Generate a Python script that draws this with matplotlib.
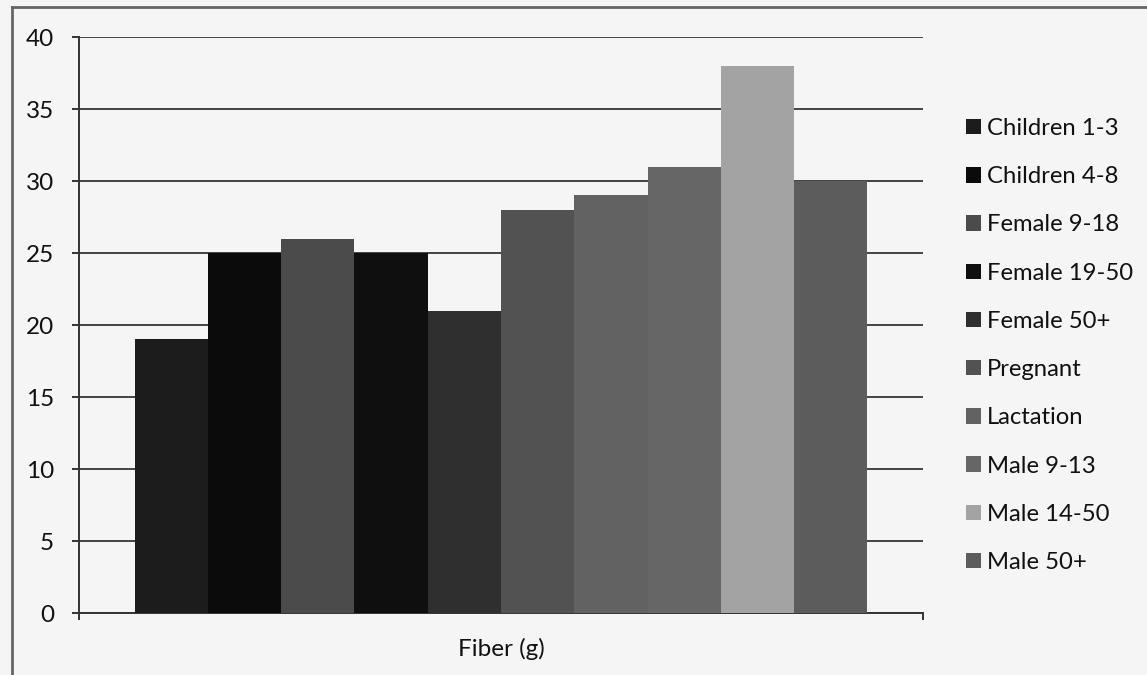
import matplotlib
matplotlib.use("Agg")
import matplotlib.pyplot as plt
from matplotlib.lines import Line2D
from matplotlib.patches import Patch

categories = ["Fiber (g)"]
series = ["Children 1-3", "Children 4-8", "Female 9-18", "Female 19-50", "Female 50+",
          "Pregnant", "Lactation", "Male 9-13", "Male 14-50", "Male 50+"]
values = [19, 25, 26, 25, 21, 28, 29, 31, 38, 30]
colors = ["#1c1c1c", "#0b0b0b", "#4b4b4b", "#0f0f0f", "#2f2f2f",
          "#525252", "#626262", "#666666", "#a3a3a3", "#5c5c5c"]
yticks = [0, 5, 10, 15, 20, 25, 30, 35, 40]

plt.rcParams['font.family'] = ['Lato', 'DejaVu Sans']
bg = "#f5f5f5"
fig = plt.figure(figsize=(11.47, 6.75), dpi=100, facecolor=bg)
W, H = 1147, 675
ax = fig.add_axes([79 / W, 1 - 613 / H, (923 - 79) / W, (613 - 37) / H], facecolor=bg)

n = len(series)
group = 0.868
w = group / n
for i, (s, v, c) in enumerate(zip(series, values, colors)):
    x = -group / 2 + (i + 0.5) * w
    ax.bar(x, v, width=w, color=c, label=s, zorder=3, linewidth=0)

ax.set_xlim(-0.5, 0.5)
ax.set_ylim(0, 40)
ax.set_yticks(yticks)
ax.set_yticklabels([str(t) for t in yticks])
ax.yaxis.grid(True, color="#444444", linewidth=1.4, zorder=0)
ax.set_axisbelow(True)

for side in ["top", "right"]:
    ax.spines[side].set_visible(False)
ax.spines["left"].set_color("#333333")
ax.spines["left"].set_linewidth(1.4)
ax.spines["bottom"].set_color("#333333")
ax.spines["bottom"].set_linewidth(1.4)

fs = 17.5
ax.tick_params(axis="y", length=5, width=1.4, color="#333333", pad=13,
               labelsize=fs, labelcolor="#111111")
ax.set_xticks([0])
ax.set_xticklabels(categories)
ax.set_xticks([-0.5, 0.5], minor=True)
ax.tick_params(axis="x", which="major", length=0, pad=18, labelsize=fs, labelcolor="#111111")
ax.tick_params(axis="x", which="minor", length=5, width=1.4, color="#333333")

handles = [Patch(facecolor=c, edgecolor="none") for c in colors]
lfs = 17.2
leg = fig.legend(handles, series, loc="upper left", bbox_to_anchor=(966 / W, 1 - 118 / H),
                 frameon=False, fontsize=lfs, handlelength=0.62, handleheight=0.62,
                 handletextpad=0.25, labelspacing=1.14, borderaxespad=0, borderpad=0)
for t in leg.get_texts():
    t.set_color("#111111")

# outer frame (left and top edges visible)
fig.add_artist(Line2D([12 / W, 12 / W], [0, 1 - 7 / H], transform=fig.transFigure,
                      color="#666666", linewidth=2))
fig.add_artist(Line2D([12 / W, 1], [1 - 7 / H, 1 - 7 / H], transform=fig.transFigure,
                      color="#666666", linewidth=2))

fig.savefig("out.png", dpi=100, facecolor=bg)
